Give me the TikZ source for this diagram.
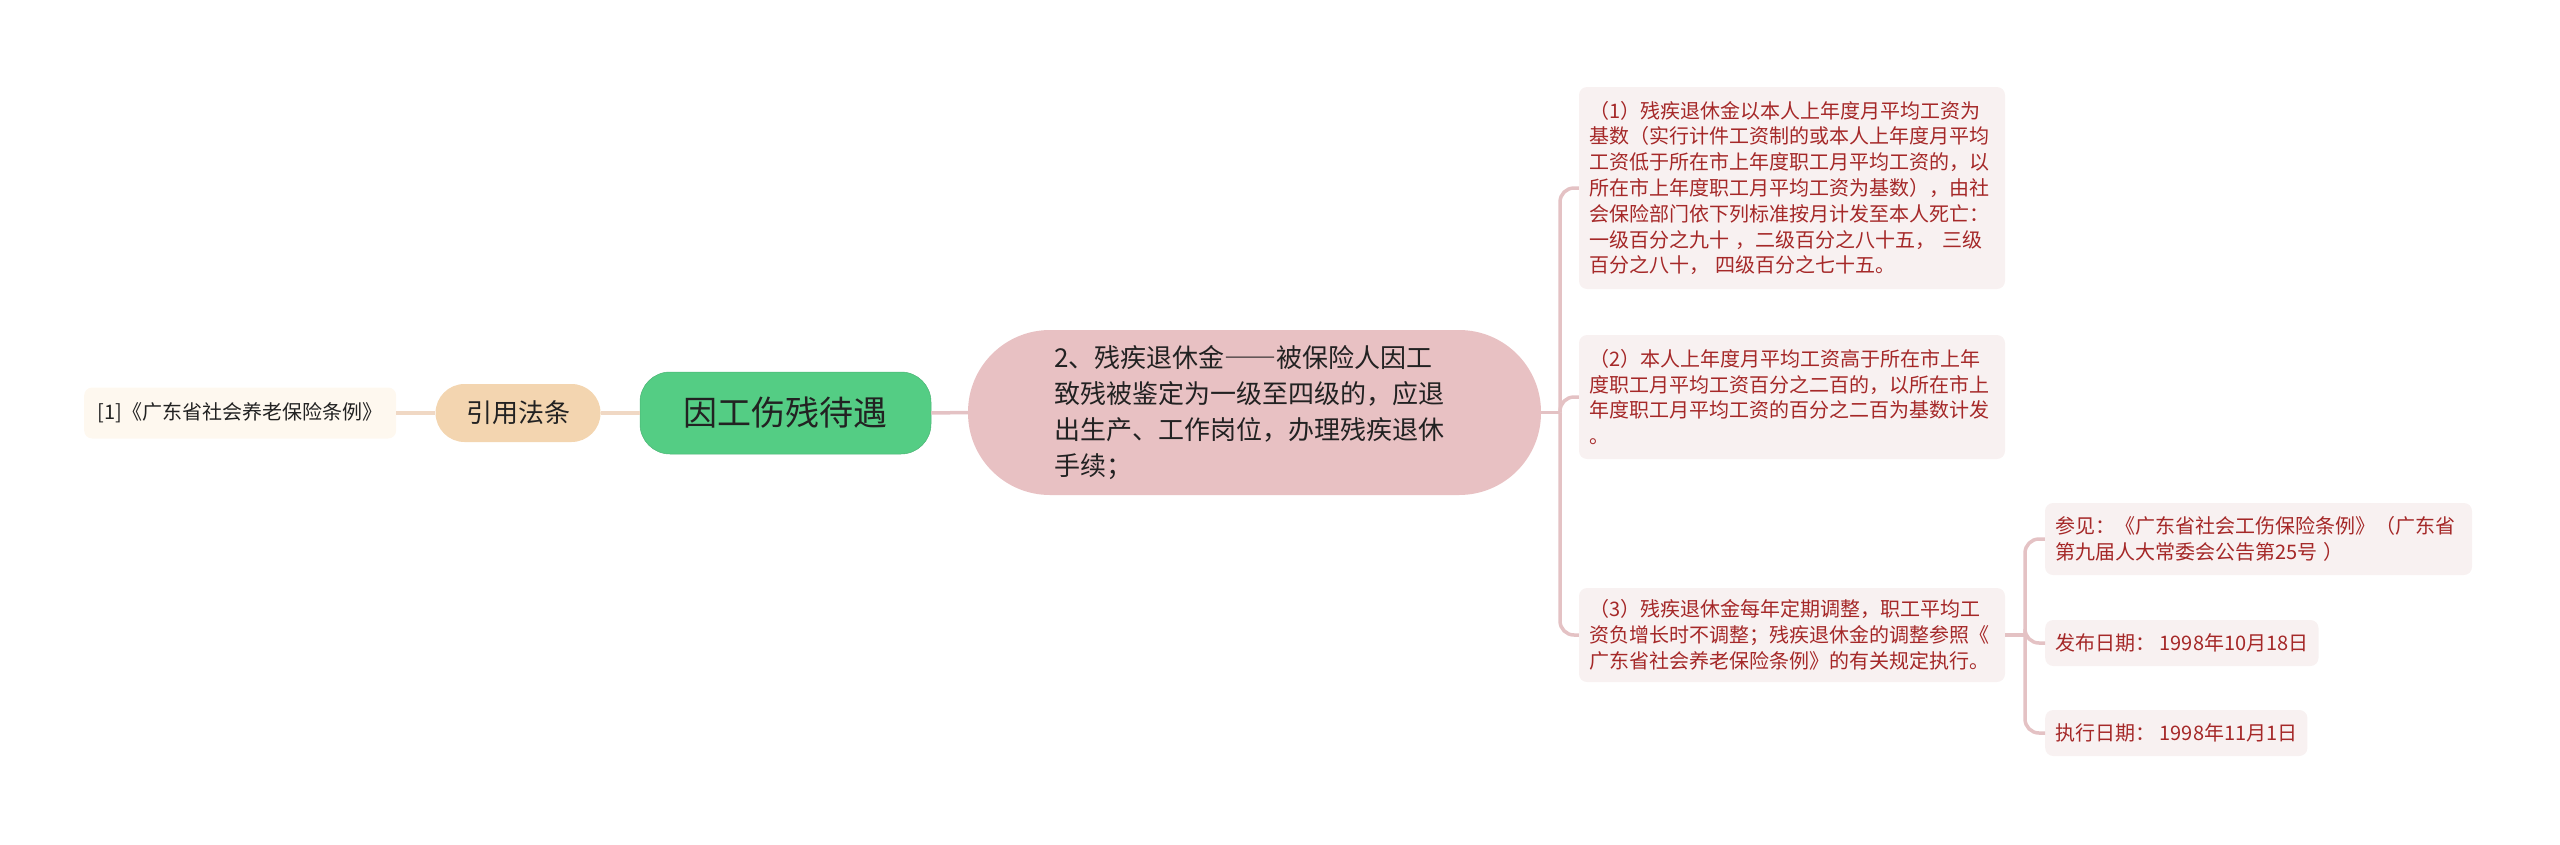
\documentclass[tikz,border=0pt]{standalone}
\usepackage{fontspec}
\setmainfont{Noto Sans CJK SC}
\usetikzlibrary{positioning}
\definecolor{myGreen}{RGB}{84,205,132}
\definecolor{myPeach}{RGB}{243,213,176}
\definecolor{myCream}{RGB}{254,248,239}
\definecolor{myPink}{RGB}{232,193,195}
\definecolor{myLeaf}{RGB}{248,241,241}
\definecolor{myRedText}{RGB}{165,40,40}
\definecolor{myDark}{RGB}{34,34,34}
\definecolor{myLineR}{RGB}{228,194,196}
\definecolor{myLineL}{RGB}{240,216,196}

\begin{document}
\begin{tikzpicture}[x=1pt, y=-1pt,
    leafbox/.style={fill=myLeaf, rounded corners=8pt, inner xsep=10pt, inner ysep=0pt,
      text=myRedText, font=\fontsize{20pt}{25.8pt}\selectfont},
    linkR/.style={draw=myLineR, line width=3.5pt, rounded corners=14pt},
    linkL/.style={draw=myLineL, line width=3.5pt}]
  \useasboundingbox (0,0) rectangle (2560,844);
  % Root topic
  \node[fill=myGreen, draw=myGreen!88!black, line width=0.5pt, rounded corners=30pt,
    minimum width=291pt, minimum height=82pt, text=myDark,
    font=\fontsize{34pt}{40pt}\selectfont] (root) at (785.5,413) {因工伤残待遇};
  % Left side: citation
  \node[fill=myPeach, rounded corners=29pt, minimum width=165pt, minimum height=58pt,
    text=myDark, font=\fontsize{26pt}{30pt}\selectfont, left=39pt of root] (cite) {引用法条};
  \node[fill=myCream, rounded corners=8pt, minimum width=312pt, minimum height=51pt,
    text=myDark, font=\fontsize{20pt}{24pt}\selectfont, left=39pt of cite] (law) {[1]《广东省社会养老保险条例》};
  % Right side: main branch
  \node[fill=myPink, rounded corners=82pt,
    minimum width=573pt, minimum height=165pt, text width=400pt, align=left, text=myDark,
    font=\fontsize{26pt}{36pt}\selectfont] (main) at (1254.5,412.5)
    {2、残疾退休金{\addfontfeatures{RawFeature=+fwid}——}被保险人因工\\致残被鉴定为一级至四级的，应退\\出生产、工作岗位，办理残疾退休\\手续；};
  % Detail leaves
  \node[leafbox, minimum width=426pt, minimum height=202pt, text width=406pt, align=left] (p1) at (1792,188)
    {（1）残疾退休金以本人上年度月平均工资为\\基数（实行计件工资制的或本人上年度月平均\\工资低于所在市上年度职工月平均工资的，以\\所在市上年度职工月平均工资为基数），由社\\会保险部门依下列标准按月计发至本人死亡：\\一级百分之九十 ，二级百分之八十五， 三级\\百分之八十， 四级百分之七十五。};
  \node[leafbox, minimum width=426pt, minimum height=124pt, text width=406pt, align=left] (p2) at (1792,397)
    {（2）本人上年度月平均工资高于所在市上年\\度职工月平均工资百分之二百的，以所在市上\\年度职工月平均工资的百分之二百为基数计发\\。};
  \node[leafbox, minimum width=426pt, minimum height=94pt, text width=406pt, align=left] (p3) at (1792,635)
    {（3）残疾退休金每年定期调整，职工平均工\\资负增长时不调整；残疾退休金的调整参照《\\广东省社会养老保险条例》的有关规定执行。};
  % Source leaves
  \node[leafbox, minimum width=427pt, minimum height=72pt, text width=407pt, align=left] (s1) at (2258.5,539)
    {参见：《广东省社会工伤保险条例》（广东省\\第九届人大常委会公告第25号 ）};
  \node[leafbox, minimum height=46pt, anchor=west] (s2) at (2045,643) {发布日期： 1998年10月18日};
  \node[leafbox, minimum height=46pt, anchor=west] (s3) at (2045,733) {执行日期： 1998年11月1日};
  % Connectors
  \coordinate (jmain) at (1560,412.5);
  \coordinate (jsrc) at (2025,635);
  \draw[linkL] (root.west) -- (cite.east);
  \draw[linkL] (cite.west) -- (law.east);
  \draw[linkR] (root.east) -- (main.west);
  \draw[linkR] (main.east) -- (jmain);
  \foreach \n in {p1,p2,p3}
    \draw[linkR] (jmain) |- (\n.west);
  \draw[linkR] (p3.east) -- (jsrc);
  \foreach \n in {s1,s2,s3}
    \draw[linkR] (jsrc) |- (\n.west);
\end{tikzpicture}
\end{document}
